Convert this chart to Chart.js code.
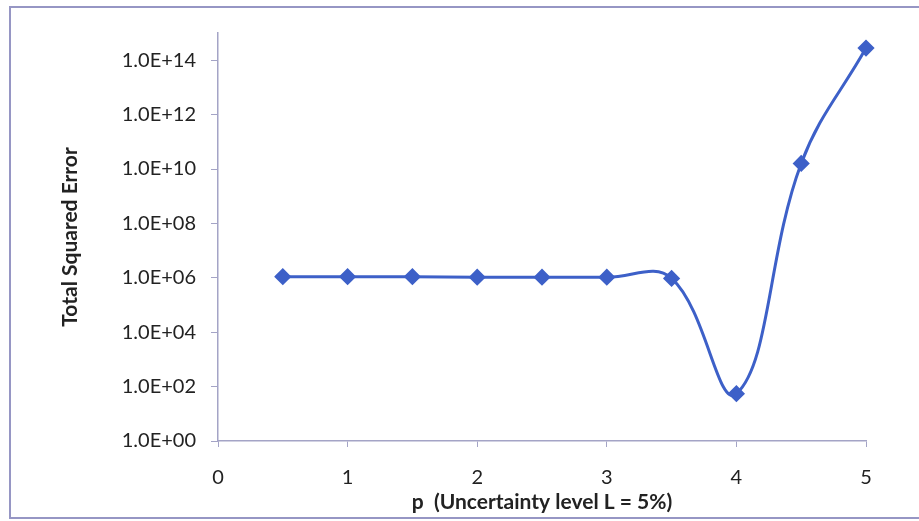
<!DOCTYPE html>
<html>
<head>
<meta charset="utf-8">
<script src="https://cdn.jsdelivr.net/npm/chart.js@4/dist/chart.umd.min.js"></script>
<style>
  html, body { margin: 0; padding: 0; background: #ffffff; }
  #wrap { width: 919px; height: 521px; position: relative; }
</style>
</head>
<body>
<div id="wrap"><canvas id="c" width="919" height="521"></canvas></div>
<script>
// ---- data ----
const pValues = [0.5, 1, 1.5, 2, 2.5, 3, 3.5, 4, 4.5, 5];
const totalSquaredError = [1.1e6, 1.1e6, 1.1e6, 1.05e6, 1.05e6, 1.05e6, 9.5e5, 55, 1.6e10, 2.8e14];
const yTickValues = [1e0, 1e2, 1e4, 1e6, 1e8, 1e10, 1e12, 1e14];
const yTickLabels = ['1.0E+00', '1.0E+02', '1.0E+04', '1.0E+06', '1.0E+08', '1.0E+10', '1.0E+12', '1.0E+14'];
const xTickValues = [0, 1, 2, 3, 4, 5];
const xTitle = 'p  (Uncertainty level L = 5%)';
const yTitle = 'Total Squared Error';

const axisColor = '#a4a4c6';
const lineColor = '#3d60c8';
const fontFamily = 'Lato, "Open Sans", sans-serif';

const borderPlugin = {
  id: 'outerBorder',
  afterDraw(chart) {
    const ctx = chart.ctx;
    ctx.save();
    ctx.strokeStyle = '#9696c4';
    ctx.lineWidth = 2;
    ctx.strokeRect(10, 7, 1000, 511);
    ctx.restore();
  }
};

new Chart(document.getElementById('c'), {
  type: 'line',
  data: {
    datasets: [{
      data: pValues.map((p, i) => ({ x: p, y: totalSquaredError[i] })),
      borderColor: lineColor,
      backgroundColor: lineColor,
      borderWidth: 3,
      tension: 0.4,
      pointStyle: 'rectRot',
      pointRadius: 6.5,
      pointHoverRadius: 6.5,
      fill: false,
      clip: false
    }]
  },
  options: {
    responsive: false,
    animation: false,
    devicePixelRatio: 1,
    layout: { padding: { left: 0, top: 33, right: 53, bottom: 0 } },
    plugins: { legend: { display: false }, tooltip: { enabled: false } },
    scales: {
      x: {
        type: 'linear',
        min: 0, max: 5,
        afterBuildTicks(scale) { scale.ticks = xTickValues.map(v => ({ value: v })); },
        afterFit(scale) { scale.height = 80; },
        grid: { display: true, drawOnChartArea: false, drawTicks: true, tickLength: 6, color: axisColor, tickColor: axisColor },
        border: { display: true, color: axisColor, width: 1.5 },
        ticks: { color: '#222', font: { family: fontFamily, size: 20 }, padding: 19 },
        title: { display: true, text: xTitle, color: '#222', font: { family: fontFamily, size: 21, weight: 'bold' }, padding: { top: 0, bottom: 6 } }
      },
      y: {
        type: 'logarithmic',
        min: 1, max: 1e15,
        afterBuildTicks(scale) { scale.ticks = yTickValues.map(v => ({ value: v })); },
        afterFit(scale) { scale.width = 218; },
        grid: { display: true, drawOnChartArea: false, drawTicks: true, tickLength: 7, color: axisColor, tickColor: axisColor },
        border: { display: true, color: axisColor, width: 1.5 },
        ticks: {
          color: '#222', font: { family: fontFamily, size: 20 }, padding: 15,
          callback(value) { const i = yTickValues.indexOf(value); return i >= 0 ? yTickLabels[i] : ''; }
        },
        title: { display: true, text: yTitle, color: '#222', font: { family: fontFamily, size: 21, weight: 'bold' }, padding: { top: 58, bottom: 0 } }
      }
    }
  },
  plugins: [borderPlugin]
});
</script>
</body>
</html>
